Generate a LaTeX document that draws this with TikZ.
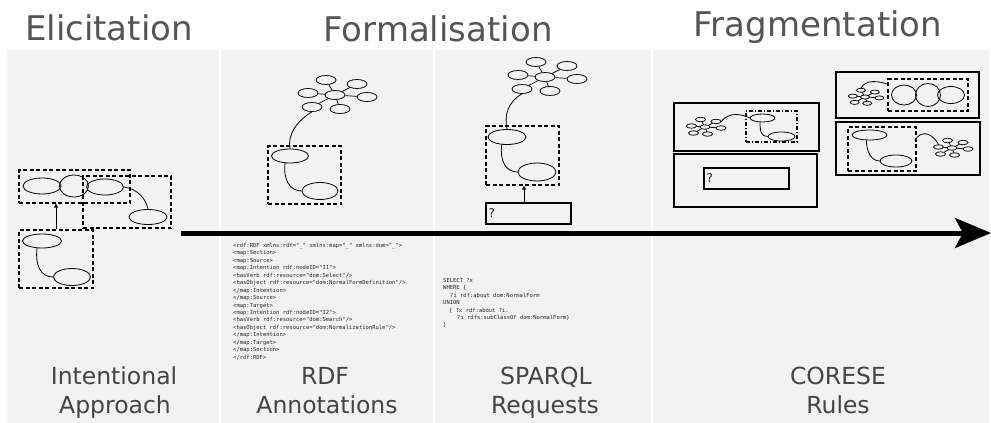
\documentclass[tikz,border=0pt]{standalone}
\usepackage{fontspec}
\setmainfont{DejaVu Sans}
\newfontfamily\codefont{DejaVu Sans Mono}
\usetikzlibrary{shapes.geometric,arrows.meta}
\definecolor{bg}{HTML}{F2F2F2}
\definecolor{titlegray}{HTML}{555555}
\definecolor{labelgray}{HTML}{444444}
\definecolor{codegray}{HTML}{222222}
\tikzset{
  el/.style={draw, ellipse, line width=0.8pt, inner sep=0pt},
  sm/.style={draw, ellipse, line width=0.75pt, inner sep=0pt, minimum width=20pt, minimum height=9pt},
  dbox/.style={draw, rectangle, line width=1.1pt, dash pattern=on 4pt off 2.5pt, inner sep=0pt},
  ddbox/.style={draw, rectangle, line width=1.1pt, dash pattern=on 4pt off 2pt on 1pt off 2pt, inner sep=0pt},
  sbox/.style={draw, rectangle, line width=1.3pt, inner sep=0pt},
  conn/.style={line width=0.8pt},
  title/.style={font=\fontsize{34}{40}\selectfont, text=titlegray, anchor=base, inner sep=0pt},
  lbl/.style={font=\fontsize{23.5}{29}\selectfont, text=labelgray, anchor=base, inner sep=0pt},
  code/.style={font=\codefont\fontsize{5.5}{7.45}\selectfont, text=codegray, align=left, anchor=north west, inner sep=0pt},
  qm/.style={font=\fontsize{12}{14}\selectfont, text=codegray, inner sep=0pt, anchor=west},
  uparrow/.style={line width=1pt, -{Triangle[open, length=4pt, width=4pt]}},
  cluster/.pic={
    \node[sm] (c) at (0,0) {};
    \node[sm] (t) at (-9,-15) {};
    \node[sm] (tr) at (22,-11) {};
    \node[sm] (l) at (-27,-2) {};
    \node[sm] (r) at (32,2) {};
    \node[sm] (bl) at (-23,12) {};
    \node[sm] (br) at (5,14) {};
    \draw[line width=0.7pt] (c) -- (t) (c) -- (tr) (c) -- (l) (c) -- (r) (c) -- (bl) (c) -- (br);
  }
}
\begin{document}
\begin{tikzpicture}[x=1pt,y=-1pt]
\useasboundingbox (0,0) rectangle (991,423);
\fill[bg] (7,50) rectangle (989,423);
\draw[white, line width=2pt] (220,50) -- (220,423) (434,50) -- (434,423) (652,50) -- (652,423);

% titles
\node[title] (t1) at (109,40) {Elicitation};
\node[title] (t2) at (438,41) {Formalisation};
\node[title] (t3) at (818,36) {Fragmentation};

% bottom labels
\node[lbl] (l1a) at (114,384) {Intentional};
\node[lbl] (l1b) at (115,413) {Approach};
\node[lbl] (l2a) at (325,384) {RDF};
\node[lbl] (l2b) at (327,413) {Annotations};
\node[lbl] (l3a) at (546,384) {SPARQL};
\node[lbl] (l3b) at (545,413) {Requests};
\node[lbl] (l4a) at (838,384) {CORESE};
\node[lbl] (l4b) at (838,413) {Rules};

% main arrow
\coordinate (as) at (181,233);
\coordinate (ae) at (991,233);
\draw[line width=5pt, -{Stealth[length=36pt, width=30pt, inset=8pt]}] (as) -- (ae);

% Elicitation
\node[el, minimum width=38pt, minimum height=16pt] (e1) at (42,186) {};
\node[el, minimum width=29pt, minimum height=22pt] (e2) at (74,186) {};
\node[el, minimum width=37pt, minimum height=16pt] (e3) at (105,187) {};
\node[el, minimum width=38pt, minimum height=15pt] (e4) at (148,217) {};
\node[el, minimum width=39pt, minimum height=14pt] (e5) at (42,241) {};
\node[el, minimum width=37pt, minimum height=17pt] (e6) at (72,277) {};
\node[dbox, minimum width=111pt, minimum height=33pt] (bA) at (74.5,186.5) {};
\node[dbox, minimum width=88pt, minimum height=52pt] (bB) at (127,202) {};
\node[dbox, minimum width=74pt, minimum height=58pt] (bC) at (56,259) {};
\draw[conn] (e3.east) .. controls +(14,2) and +(-2,-10) .. (e4.north);
\draw[conn] (e5.235) .. controls +(-2,18) and +(-12,0) .. (e6.west);
\draw[uparrow] (bC.north) -- (bC.north |- bA.south);

% RDF
\pic (k1) at (335,95) {cluster};
\node[el, minimum width=37pt, minimum height=14pt] (r1) at (290,156) {};
\node[el, minimum width=36pt, minimum height=17pt] (r2) at (320,191) {};
\node[dbox, minimum width=73pt, minimum height=58pt] (rb) at (304.5,175) {};
\draw[conn] (k1bl.south) .. controls +(-14,8) and +(-3,-14) .. (r1.north);
\draw[conn] (r1.235) .. controls +(-2,16) and +(-12,0) .. (r2.west);
\node[code] (rdfcode) at (233,243) {%
<rdf:RDF xmlns:rdf="\_" xmlns:map="\_" xmlns:dom="\_">\\
<map:Section>\\
<map:Source>\\
<map:Intention rdf:nodeID="I1">\\
<hasVerb rdf:resource="dom:Select"/>\\
<hasObject rdf:resource="dom:NormalFormDefinition"/>\\
</map:Intention>\\
</map:Source>\\
<map:Target>\\
<map:Intention rdf:nodeID="I2">\\
<hasVerb rdf:resource="dom:Search"/>\\
<hasObject rdf:resource="dom:NormalizationRule"/>\\
</map:Intention>\\
</map:Target>\\
</map:Section>\\
</rdf:RDF>};

% SPARQL
\pic (k2) at (545,77) {cluster};
\node[el, minimum width=38pt, minimum height=15pt] (s1) at (507,137) {};
\node[el, minimum width=38pt, minimum height=18pt] (s2) at (537,172) {};
\node[dbox, minimum width=73pt, minimum height=59pt] (sb) at (522.5,155.5) {};
\node[sbox, minimum width=85pt, minimum height=21pt] (sq) at (528.5,213.5) {};
\node[qm] (sqm) at ([xshift=3pt]sq.west) {?};
\draw[conn] (k2bl.south) .. controls +(-14,8) and +(-3,-14) .. (s1.north);
\draw[conn] (s1.235) .. controls +(-2,16) and +(-12,0) .. (s2.west);
\coordinate (sqa) at ([xshift=-4.5pt]sq.north);
\draw[uparrow] (sqa) -- (sqa |- sb.south);
\node[code] (sparqlcode) at (443,278) {%
SELECT ?x\\
WHERE \{\\
\hspace*{7pt}?i rdf:about dom:NormalForm\\
UNION\\
\hspace*{6pt}\{ ?x rdf:about ?i.\\
\hspace*{14pt}?i rdfs:subClassOf dom:NormalForm\}\\
\}};

% Fragmentation
\node[sbox, minimum width=145pt, minimum height=48pt] (f1) at (746.5,127) {};
\node[sbox, minimum width=143pt, minimum height=53pt] (f2) at (745.5,180.5) {};
\node[sbox, minimum width=85pt, minimum height=21pt] (f2q) at (746.5,178.5) {};
\node[qm] (f2qm) at ([xshift=3pt]f2q.west) {?};
\node[sbox, minimum width=143pt, minimum height=46pt] (f3) at (907.5,95) {};
\node[sbox, minimum width=144pt, minimum height=53pt] (f4) at (908,148.5) {};

% F1 content
\pic[scale=0.5, transform shape] (m1) at (705,127) {cluster};
\node[ddbox, minimum width=51pt, minimum height=31pt] (f1d) at (771.5,126.5) {};
\node[el, minimum width=25pt, minimum height=8pt] (f1a) at (762.5,118) {};
\node[el, minimum width=27pt, minimum height=9pt] (f1b) at (781.5,136.5) {};
\draw[conn] (m1tr.east) .. controls +(8,-10) and +(-8,-4) .. (f1a.west);
\draw[conn] (f1a.240) .. controls +(0,10) and +(-6,0) .. (f1b.west);

% F3 content
\pic[scale=0.45, transform shape] (m3) at (865,97) {cluster};
\node[dbox, minimum width=80pt, minimum height=32pt] (f3d) at (928,95) {};
\node[el, minimum width=25pt, minimum height=20pt] (f3a) at (904,95) {};
\node[el, minimum width=25pt, minimum height=23pt] (f3b) at (928,95) {};
\node[el, minimum width=27pt, minimum height=17pt] (f3c) at (951,95) {};
\draw[conn] (m3t.north) .. controls +(5,-9) and +(-9,-3) .. (f3d.165);

% F4 content
\node[dbox, minimum width=68pt, minimum height=44pt] (f4d) at (882,149) {};
\node[el, minimum width=35pt, minimum height=10pt] (f4a) at (869.5,135) {};
\node[el, minimum width=32pt, minimum height=12pt] (f4b) at (896,161) {};
\pic[scale=0.5, transform shape] (m4) at (952,148) {cluster};
\draw[conn] (f4a.240) .. controls +(0,12) and +(-8,0) .. (f4b.west);
\draw[conn] (f4d.18) .. controls +(8,-9) and +(-4,-8) .. (m4l.north);
\end{tikzpicture}
\end{document}
